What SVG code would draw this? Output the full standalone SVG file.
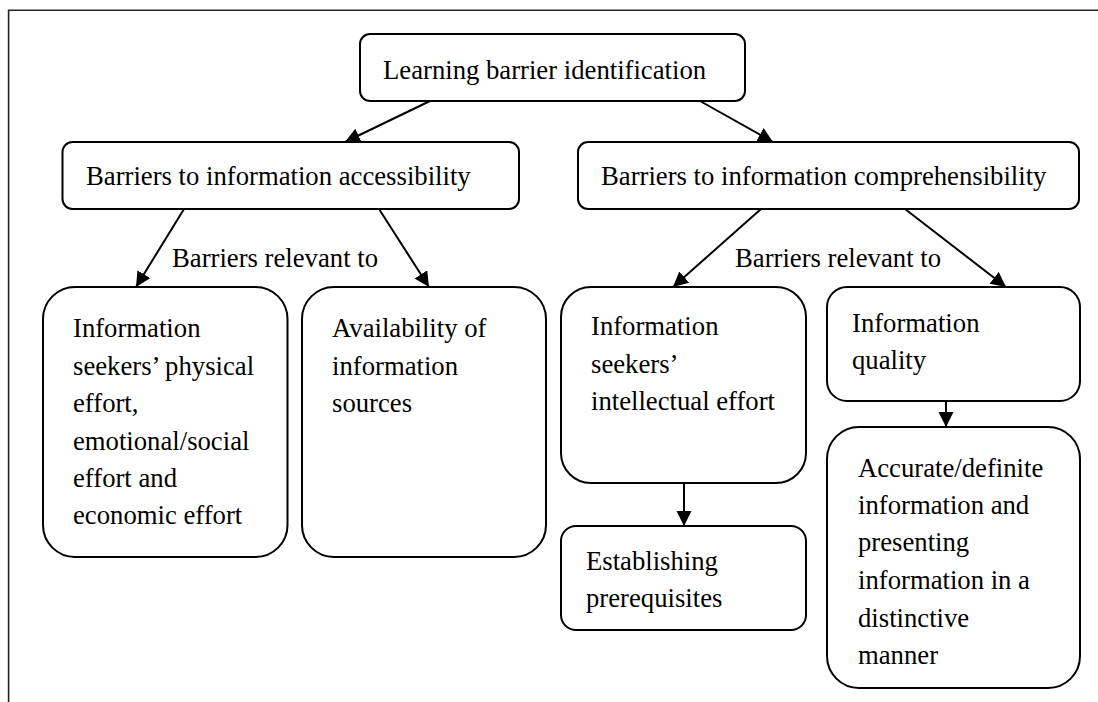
<svg xmlns="http://www.w3.org/2000/svg" width="1098" height="702" viewBox="0 0 1098 702" font-family="Liberation Serif, Times New Roman, serif">
<style>
.box{fill:#fff;stroke:#000;stroke-width:2}
.t{font-size:26.7px;fill:#000}
.c{stroke:#000;stroke-width:2;fill:none;marker-end:url(#ah)}
</style>
<defs>
<marker id="ah" markerUnits="userSpaceOnUse" markerWidth="16" markerHeight="16" refX="15" refY="7.5" orient="auto">
<path d="M0,0 L15,7.5 L0,15 z" fill="#000"/>
</marker>
</defs>
<rect width="1098" height="702" fill="#fff"/>
<path d="M8.6,702 V10.3 H1098" fill="none" stroke="#222" stroke-width="1.6"/>
<g id="connectors">
<line class="c" x1="430" y1="101" x2="345" y2="142"/>
<line class="c" x1="700" y1="101" x2="773" y2="142"/>
<line class="c" x1="184" y1="209" x2="136" y2="287"/>
<line class="c" x1="379" y1="209" x2="429" y2="287"/>
<line class="c" x1="761" y1="209" x2="673" y2="287"/>
<line class="c" x1="905" y1="209" x2="1006" y2="287"/>
<line class="c" x1="684" y1="483" x2="684" y2="526"/>
<line class="c" x1="946" y1="401" x2="946" y2="427"/>
<text class="t" x="172" y="267">Barriers relevant to</text>
<text class="t" x="735" y="267">Barriers relevant to</text>
</g>
<g id="root">
<rect class="box" x="360" y="34" width="385" height="67" rx="10"/>
<text class="t" x="383" y="79">Learning barrier identification</text>
</g>
<g id="access">
<rect class="box" x="62.5" y="142" width="456.5" height="67" rx="10"/>
<text class="t" x="86" y="185">Barriers to information accessibility</text>
</g>
<g id="compre">
<rect class="box" x="578" y="142" width="501" height="67" rx="10"/>
<text class="t" x="601" y="185">Barriers to information comprehensibility</text>
</g>
<g id="effort">
<rect class="box" x="43" y="287" width="244.5" height="270" rx="32"/>
<text class="t" x="73" y="337">Information</text>
<text class="t" x="73" y="374.5">seekers’ physical</text>
<text class="t" x="73" y="412">effort,</text>
<text class="t" x="73" y="449.5">emotional/social</text>
<text class="t" x="73" y="487">effort and</text>
<text class="t" x="73" y="524">economic effort</text>
</g>
<g id="availability">
<rect class="box" x="302" y="287" width="244" height="270" rx="32"/>
<text class="t" x="332" y="337">Availability of</text>
<text class="t" x="332" y="374.5">information</text>
<text class="t" x="332" y="412">sources</text>
</g>
<g id="intellectual">
<rect class="box" x="561" y="287" width="245" height="196" rx="30"/>
<text class="t" x="591" y="335">Information</text>
<text class="t" x="591" y="373">seekers’</text>
<text class="t" x="591" y="410">intellectual effort</text>
</g>
<g id="prereq">
<rect class="box" x="561" y="526" width="245" height="104" rx="15"/>
<text class="t" x="586" y="570">Establishing</text>
<text class="t" x="586" y="607">prerequisites</text>
</g>
<g id="quality">
<rect class="box" x="827" y="287" width="253" height="114" rx="20"/>
<text class="t" x="852" y="332">Information</text>
<text class="t" x="852" y="369">quality</text>
</g>
<g id="accurate">
<rect class="box" x="827" y="427" width="253" height="261" rx="32"/>
<text class="t" x="858" y="477">Accurate/definite</text>
<text class="t" x="858" y="514">information and</text>
<text class="t" x="858" y="551">presenting</text>
<text class="t" x="858" y="589">information in a</text>
<text class="t" x="858" y="627">distinctive</text>
<text class="t" x="858" y="664">manner</text>
</g>
</svg>
